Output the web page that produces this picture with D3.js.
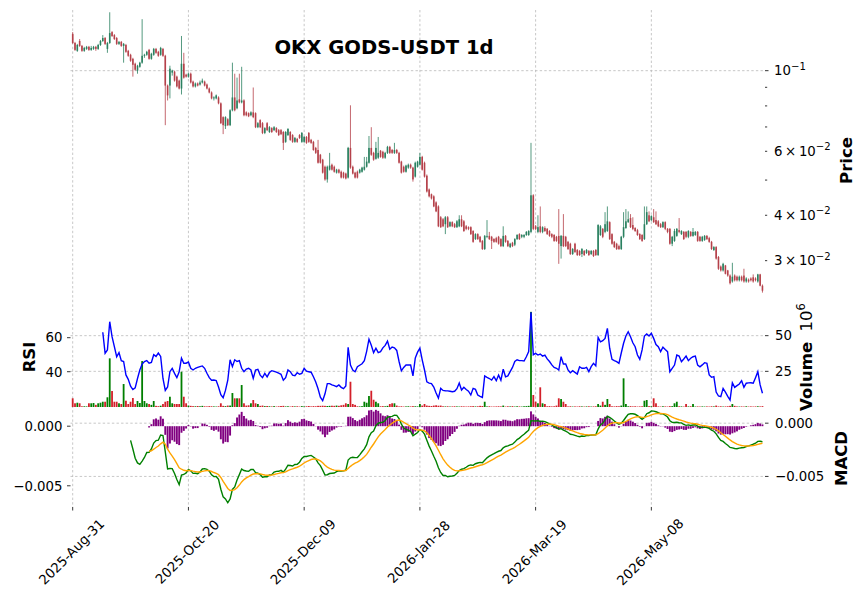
<!DOCTYPE html>
<html>
<head>
<meta charset="utf-8">
<script src="https://cdn.jsdelivr.net/npm/d3@7"></script>
<style>
  body { margin: 0; background: #fff; }
  text { font-family: "DejaVu Sans", sans-serif; fill: #000; }
</style>
</head>
<body>
<svg id="chart" width="865" height="600"></svg>
<script>
var title = "OKX GODS-USDT 1d";
var firstDate = "2025-08-31";
var dateTickIndex = [0, 50, 100, 150, 200, 250];

var opens = [
0.1261,0.1192,0.1134,0.1207,0.1170,0.1134,0.1148,0.1163,0.1141,0.1148,
0.1163,0.1148,0.1177,0.1207,0.1230,0.1148,0.1192,0.1277,0.1253,0.1230,
0.1185,0.1200,0.1170,0.1177,0.1134,0.1106,0.1078,0.1045,0.1000,0.1025,
0.1052,0.1099,0.1106,0.1141,0.1078,0.1106,0.1148,0.1127,0.1106,0.1148,
0.1099,0.0910,0.0910,0.0988,0.0994,0.0963,0.0939,0.0893,0.1045,0.0975,
0.0963,0.0981,0.0933,0.0905,0.0922,0.0916,0.0928,0.0933,0.0916,0.0893,
0.0871,0.0839,0.0839,0.0844,0.0813,0.0745,0.0704,0.0735,0.0708,0.0778,
0.0844,0.0788,0.0834,0.0818,0.0828,0.0768,0.0764,0.0754,0.0768,0.0764,
0.0699,0.0731,0.0717,0.0674,0.0717,0.0678,0.0695,0.0686,0.0695,0.0686,
0.0686,0.0678,0.0637,0.0665,0.0678,0.0665,0.0637,0.0649,0.0665,0.0637,
0.0637,0.0657,0.0674,0.0645,0.0637,0.0613,0.0605,0.0587,0.0569,0.0544,
0.0502,0.0534,0.0551,0.0544,0.0524,0.0534,0.0527,0.0524,0.0521,0.0508,
0.0613,0.0544,0.0524,0.0527,0.0524,0.0527,0.0534,0.0544,0.0558,0.0613,
0.0594,0.0572,0.0576,0.0602,0.0598,0.0576,0.0594,0.0617,0.0605,0.0594,
0.0605,0.0594,0.0562,0.0544,0.0527,0.0541,0.0551,0.0541,0.0511,0.0544,
0.0551,0.0579,0.0558,0.0514,0.0471,0.0457,0.0451,0.0434,0.0423,0.0395,
0.0390,0.0378,0.0395,0.0373,0.0383,0.0378,0.0371,0.0373,0.0390,0.0385,
0.0373,0.0371,0.0371,0.0362,0.0344,0.0355,0.0349,0.0340,0.0323,0.0349,
0.0351,0.0349,0.0344,0.0346,0.0349,0.0344,0.0329,0.0351,0.0340,0.0327,
0.0336,0.0332,0.0344,0.0355,0.0349,0.0349,0.0353,0.0353,0.0360,0.0454,
0.0373,0.0360,0.0373,0.0360,0.0369,0.0367,0.0362,0.0355,0.0353,0.0349,
0.0351,0.0329,0.0351,0.0349,0.0338,0.0334,0.0313,0.0334,0.0321,0.0319,
0.0313,0.0319,0.0315,0.0319,0.0313,0.0319,0.0321,0.0311,0.0353,0.0367,
0.0360,0.0362,0.0383,0.0355,0.0338,0.0334,0.0329,0.0323,0.0349,0.0369,
0.0383,0.0393,0.0376,0.0369,0.0364,0.0355,0.0353,0.0344,0.0378,0.0400,
0.0388,0.0395,0.0388,0.0385,0.0378,0.0371,0.0383,0.0367,0.0367,0.0334,
0.0340,0.0351,0.0364,0.0355,0.0360,0.0360,0.0349,0.0360,0.0351,0.0353,
0.0360,0.0349,0.0340,0.0342,0.0351,0.0346,0.0338,0.0321,0.0327,0.0307,
0.0289,0.0282,0.0291,0.0282,0.0273,0.0263,0.0273,0.0271,0.0265,0.0271,
0.0273,0.0263,0.0266,0.0268,0.0270,0.0268,0.0263,0.0275,0.0256];

var highs = [
0.1277,0.1200,0.1185,0.1222,0.1177,0.1163,0.1170,0.1170,0.1170,0.1170,
0.1170,0.1185,0.1215,0.1253,0.1238,0.1200,0.1448,0.1285,0.1261,0.1238,
0.1207,0.1207,0.1192,0.1185,0.1141,0.1113,0.1085,0.1052,0.1038,0.1058,
0.1386,0.1113,0.1134,0.1148,0.1120,0.1155,0.1155,0.1134,0.1163,0.1155,
0.1106,0.0916,0.1032,0.1006,0.1000,0.0969,0.0945,0.1246,0.1120,0.0981,
0.0988,0.0988,0.0939,0.0928,0.0928,0.0939,0.0951,0.0939,0.0922,0.0899,
0.0877,0.0850,0.0860,0.0850,0.0818,0.0749,0.0749,0.0740,0.0783,0.1052,
0.0981,0.0957,0.0981,0.1025,0.0834,0.0773,0.0768,0.0773,0.0899,0.0768,
0.0722,0.0735,0.0722,0.0699,0.0722,0.0704,0.0699,0.0704,0.0699,0.0691,
0.0691,0.0682,0.0682,0.0695,0.0682,0.0669,0.0657,0.0653,0.0669,0.0678,
0.0661,0.0661,0.0678,0.0649,0.0641,0.0617,0.0645,0.0590,0.0572,0.0548,
0.0548,0.0594,0.0555,0.0548,0.0537,0.0537,0.0531,0.0527,0.0524,0.0617,
0.0803,0.0548,0.0527,0.0531,0.0537,0.0544,0.0579,0.0579,0.0661,0.0699,
0.0598,0.0637,0.0657,0.0605,0.0602,0.0598,0.0621,0.0621,0.0609,0.0633,
0.0609,0.0598,0.0565,0.0548,0.0551,0.0555,0.0555,0.0544,0.0562,0.0565,
0.0594,0.0583,0.0562,0.0518,0.0474,0.0459,0.0454,0.0437,0.0426,0.0398,
0.0393,0.0398,0.0398,0.0385,0.0385,0.0381,0.0388,0.0400,0.0400,0.0388,
0.0376,0.0373,0.0373,0.0364,0.0357,0.0357,0.0351,0.0342,0.0353,0.0388,
0.0360,0.0351,0.0346,0.0349,0.0351,0.0346,0.0373,0.0353,0.0342,0.0336,
0.0338,0.0346,0.0355,0.0357,0.0355,0.0355,0.0362,0.0364,0.0633,0.0457,
0.0376,0.0400,0.0423,0.0373,0.0373,0.0369,0.0364,0.0357,0.0355,0.0351,
0.0416,0.0353,0.0403,0.0351,0.0340,0.0336,0.0325,0.0336,0.0323,0.0321,
0.0325,0.0321,0.0323,0.0321,0.0321,0.0321,0.0323,0.0378,0.0376,0.0369,
0.0408,0.0423,0.0385,0.0357,0.0340,0.0336,0.0332,0.0351,0.0408,0.0416,
0.0410,0.0403,0.0395,0.0371,0.0367,0.0357,0.0355,0.0423,0.0423,0.0410,
0.0400,0.0416,0.0410,0.0388,0.0381,0.0385,0.0385,0.0369,0.0369,0.0351,
0.0367,0.0369,0.0393,0.0364,0.0362,0.0362,0.0364,0.0362,0.0369,0.0362,
0.0362,0.0351,0.0351,0.0353,0.0353,0.0349,0.0340,0.0329,0.0329,0.0309,
0.0291,0.0296,0.0292,0.0283,0.0275,0.0296,0.0275,0.0273,0.0273,0.0273,
0.0285,0.0270,0.0268,0.0270,0.0275,0.0270,0.0276,0.0276,0.0258];

var lows = [
0.1185,0.1134,0.1127,0.1163,0.1127,0.1127,0.1141,0.1134,0.1134,0.1141,
0.1134,0.1141,0.1170,0.1200,0.1177,0.1120,0.1185,0.1238,0.1215,0.1177,
0.1177,0.1163,0.1052,0.1120,0.1092,0.1058,0.0963,0.1000,0.0981,0.1019,
0.1045,0.1085,0.1099,0.1072,0.1072,0.1099,0.1113,0.1092,0.1099,0.1092,
0.0708,0.0828,0.0839,0.0969,0.0933,0.0899,0.0888,0.0860,0.0951,0.0957,
0.0957,0.0922,0.0899,0.0899,0.0905,0.0910,0.0922,0.0905,0.0888,0.0866,
0.0834,0.0828,0.0834,0.0808,0.0713,0.0669,0.0691,0.0704,0.0704,0.0773,
0.0773,0.0783,0.0813,0.0813,0.0749,0.0749,0.0745,0.0749,0.0740,0.0695,
0.0695,0.0695,0.0669,0.0669,0.0682,0.0674,0.0674,0.0682,0.0674,0.0661,
0.0665,0.0605,0.0633,0.0661,0.0641,0.0633,0.0633,0.0633,0.0649,0.0633,
0.0633,0.0629,0.0633,0.0629,0.0602,0.0590,0.0555,0.0555,0.0521,0.0498,
0.0492,0.0531,0.0531,0.0524,0.0521,0.0521,0.0505,0.0505,0.0502,0.0505,
0.0537,0.0518,0.0505,0.0505,0.0521,0.0524,0.0531,0.0541,0.0555,0.0583,
0.0565,0.0569,0.0572,0.0576,0.0572,0.0572,0.0590,0.0590,0.0590,0.0590,
0.0590,0.0555,0.0521,0.0524,0.0524,0.0537,0.0537,0.0495,0.0508,0.0541,
0.0548,0.0531,0.0508,0.0462,0.0448,0.0442,0.0421,0.0408,0.0371,0.0369,
0.0371,0.0355,0.0369,0.0371,0.0371,0.0369,0.0369,0.0371,0.0371,0.0360,
0.0364,0.0364,0.0353,0.0336,0.0342,0.0342,0.0336,0.0321,0.0321,0.0346,
0.0342,0.0323,0.0336,0.0336,0.0332,0.0327,0.0327,0.0336,0.0327,0.0325,
0.0327,0.0329,0.0342,0.0342,0.0346,0.0346,0.0351,0.0351,0.0357,0.0364,
0.0364,0.0357,0.0357,0.0357,0.0360,0.0353,0.0349,0.0346,0.0338,0.0338,
0.0294,0.0304,0.0327,0.0327,0.0321,0.0311,0.0311,0.0315,0.0309,0.0309,
0.0307,0.0309,0.0313,0.0309,0.0311,0.0307,0.0309,0.0309,0.0351,0.0346,
0.0357,0.0360,0.0342,0.0332,0.0325,0.0321,0.0321,0.0321,0.0346,0.0367,
0.0381,0.0369,0.0364,0.0360,0.0351,0.0342,0.0338,0.0342,0.0376,0.0383,
0.0385,0.0381,0.0376,0.0371,0.0369,0.0369,0.0364,0.0357,0.0332,0.0329,
0.0338,0.0349,0.0357,0.0353,0.0342,0.0346,0.0346,0.0349,0.0349,0.0351,
0.0338,0.0338,0.0338,0.0340,0.0342,0.0336,0.0321,0.0319,0.0302,0.0283,
0.0280,0.0280,0.0275,0.0271,0.0258,0.0261,0.0263,0.0263,0.0263,0.0263,
0.0261,0.0261,0.0261,0.0263,0.0261,0.0263,0.0261,0.0255,0.0245];

var closes = [
0.1192,0.1141,0.1177,0.1170,0.1134,0.1155,0.1163,0.1141,0.1155,0.1163,
0.1148,0.1177,0.1207,0.1230,0.1185,0.1192,0.1269,0.1246,0.1222,0.1185,
0.1200,0.1170,0.1185,0.1127,0.1099,0.1065,0.1038,0.1006,0.1032,0.1052,
0.1099,0.1106,0.1127,0.1078,0.1113,0.1148,0.1120,0.1099,0.1155,0.1099,
0.0910,0.0855,0.1013,0.1000,0.0939,0.0905,0.0893,0.1045,0.0957,0.0963,
0.0981,0.0928,0.0905,0.0922,0.0910,0.0928,0.0939,0.0910,0.0893,0.0871,
0.0839,0.0844,0.0855,0.0813,0.0717,0.0708,0.0745,0.0708,0.0778,0.0844,
0.0778,0.0828,0.0818,0.0828,0.0754,0.0754,0.0749,0.0768,0.0745,0.0699,
0.0717,0.0699,0.0674,0.0695,0.0686,0.0699,0.0678,0.0699,0.0678,0.0665,
0.0669,0.0633,0.0678,0.0691,0.0645,0.0637,0.0653,0.0637,0.0653,0.0674,
0.0657,0.0633,0.0637,0.0633,0.0605,0.0594,0.0558,0.0558,0.0524,0.0502,
0.0544,0.0548,0.0534,0.0527,0.0534,0.0524,0.0508,0.0508,0.0505,0.0613,
0.0541,0.0521,0.0508,0.0508,0.0534,0.0541,0.0544,0.0562,0.0613,0.0587,
0.0569,0.0613,0.0594,0.0579,0.0576,0.0594,0.0617,0.0594,0.0594,0.0605,
0.0594,0.0558,0.0524,0.0527,0.0548,0.0551,0.0541,0.0502,0.0558,0.0562,
0.0579,0.0534,0.0511,0.0465,0.0451,0.0445,0.0423,0.0410,0.0373,0.0371,
0.0373,0.0395,0.0371,0.0383,0.0373,0.0371,0.0385,0.0390,0.0373,0.0362,
0.0367,0.0367,0.0355,0.0338,0.0355,0.0344,0.0338,0.0323,0.0351,0.0351,
0.0344,0.0340,0.0338,0.0338,0.0334,0.0329,0.0351,0.0338,0.0329,0.0334,
0.0329,0.0344,0.0353,0.0344,0.0353,0.0353,0.0360,0.0362,0.0454,0.0367,
0.0367,0.0371,0.0360,0.0371,0.0362,0.0355,0.0351,0.0349,0.0340,0.0340,
0.0334,0.0351,0.0329,0.0329,0.0323,0.0313,0.0323,0.0317,0.0311,0.0311,
0.0323,0.0311,0.0321,0.0311,0.0319,0.0309,0.0311,0.0376,0.0373,0.0349,
0.0378,0.0385,0.0344,0.0334,0.0327,0.0323,0.0323,0.0349,0.0371,0.0385,
0.0390,0.0371,0.0367,0.0362,0.0353,0.0344,0.0340,0.0378,0.0408,0.0385,
0.0398,0.0383,0.0378,0.0373,0.0371,0.0383,0.0367,0.0360,0.0334,0.0349,
0.0362,0.0367,0.0360,0.0362,0.0344,0.0349,0.0362,0.0351,0.0360,0.0360,
0.0340,0.0340,0.0349,0.0351,0.0344,0.0338,0.0323,0.0327,0.0304,0.0285,
0.0282,0.0294,0.0276,0.0273,0.0260,0.0271,0.0265,0.0265,0.0271,0.0265,
0.0263,0.0268,0.0263,0.0265,0.0263,0.0265,0.0275,0.0256,0.0248];

// volume in millions of GODS
var volumeMillions = [
6.1,2.6,3.0,2.6,0.5,0.5,0.4,2.6,2.6,2.8,
1.5,2.6,3.0,3.7,3.7,6.8,34.1,11.2,3.7,3.7,
2.6,2.1,16.1,4.4,2.1,3.7,6.3,2.1,4.2,2.8,
32.2,4.2,2.6,2.1,1.5,4.2,0.8,0.6,0.9,2.1,
3.7,4.2,7.2,2.6,2.1,2.1,2.1,24.7,7.2,2.6,
1.0,0.8,0.6,0.5,0.7,0.5,0.8,0.5,0.4,0.6,
0.5,0.4,0.3,0.5,2.6,0.8,0.6,1.0,1.0,9.8,
6.1,6.1,6.1,15.4,2.6,1.0,1.2,2.6,4.9,2.6,
2.1,0.8,1.0,0.6,0.7,0.5,0.4,0.6,0.3,0.5,
0.7,0.8,0.4,0.5,0.3,0.6,0.4,0.5,0.3,0.6,
0.4,0.5,0.7,0.4,0.6,0.5,0.8,0.8,0.9,0.8,
0.7,0.8,0.9,0.8,1.0,0.8,1.2,1.5,2.6,2.1,
17.7,2.1,1.5,0.5,0.4,0.6,3.7,3.0,7.7,11.4,
5.1,3.7,2.6,0.5,0.6,0.5,0.8,2.1,2.6,2.6,
1.0,0.4,0.5,0.3,0.4,0.5,0.4,0.6,0.5,0.4,
2.1,1.0,2.1,1.0,0.8,0.7,1.0,1.2,0.9,1.0,
0.5,0.4,0.5,0.3,0.4,0.5,0.4,0.3,0.5,0.4,
0.3,0.4,0.5,0.6,0.4,0.5,0.8,0.7,3.7,0.4,
0.5,0.3,0.3,0.4,0.5,0.4,1.0,0.3,0.5,0.4,
0.6,0.3,0.5,0.4,0.3,0.5,0.6,0.8,66.7,8.4,
3.7,2.6,13.8,2.6,2.1,0.5,0.6,0.4,0.5,1.0,
6.1,5.6,3.7,2.1,0.4,0.5,0.3,0.4,0.3,0.5,
0.4,0.3,0.4,0.5,0.3,0.4,0.5,2.1,1.0,3.7,
1.5,5.6,2.1,0.5,0.4,0.6,0.5,1.0,20.1,2.1,
0.5,0.6,0.4,0.5,0.3,0.4,0.5,4.4,4.9,0.6,
0.5,6.1,2.6,0.4,0.3,0.5,0.4,0.3,0.6,0.6,
2.6,3.7,0.5,0.4,0.3,2.1,0.4,0.5,2.1,0.3,
0.4,0.3,0.4,0.3,0.4,0.3,0.5,0.4,1.0,0.4,
0.5,0.3,0.4,0.5,0.8,2.1,0.8,0.4,0.3,0.4,
0.3,0.5,0.3,0.4,0.3,0.4,0.5,0.4,0.6];

// RSI(14) as plotted, first value belongs to candle 13
var rsiStart = 13;
var rsiValues = [
63.2,50.8,52.8,69.4,60.6,54.7,48.8,51.2,46.5,46,
38.1,35.5,31.5,29.5,30.5,36,41,44.5,46,46.5,
45,45.5,50,49,51,49,36,29,31,40,
42,39,36.5,40,48,45,45,45.7,42,41,
42,42.5,43,43.4,42,39.1,36.5,35,35.1,34.8,
31,26.5,24.7,29,35,47,43,47,46,46.5,
42,40,41.5,42,41,36.1,41,41.4,38,36.5,
39,37,39.5,40.6,40.2,39.8,39.1,38.5,35,36.5,
41,40,38,37.6,39.4,38.5,39,42,40.3,40,
39.7,37,34,30,25,23,27,33,33,32.2,
31.8,31.2,32.2,30.8,30,31.6,54.4,43.9,41,40,
42.9,43.8,44.7,46.5,52,59.1,55.5,51.2,53.8,51.2,
51.8,54,55.5,58,53.2,54.5,54,52.5,46,40.5,
42.5,43.9,43.9,43.9,37.5,48,51.5,53.8,47,41,
34,33.3,33,31,27.5,24.5,30.2,29,28.8,28.7,
28.5,28.2,28.5,30,33.3,29.2,30.8,29.5,28.5,26.3,
30.2,29.6,26.3,25.5,24.9,37.5,36.7,36,35.1,37.1,
34.7,38,35,41.5,37,37.5,40,42.5,46,47,
46.5,46.5,46.3,48.8,51.8,75,50,50.8,49.8,50.4,
49.2,49.8,47.5,46,44,42.5,42,41,48.8,44.5,
44.5,41,39.4,40.6,39.6,38.6,42.9,42,42,42.5,
40,43,44.9,43.4,60.2,57.6,58.2,59.6,65.5,53.8,
47.3,46.5,45.9,44.9,51,56.7,61,63.5,60.6,57,
54.7,49.8,47.3,52.8,61,62.2,61,62.6,59.6,56,
54.7,51.8,54.4,53,51.8,40,42,43.9,49.8,49.2,
45.9,47.5,49.2,46.5,47.9,48.8,49.2,43.9,42.9,44,
45.3,44.9,38.1,36.7,37.1,28,25.7,25.3,30.2,28,
25.5,23.4,33.5,30.8,31.8,32.8,34.7,30.8,33.2,33.4,
33.5,33.2,36.5,40,32.2,27.3];

var priceMinorTicks = [0.03, 0.04, 0.05, 0.06, 0.07, 0.08, 0.09];
var priceLabelTicks = [0.03, 0.04, 0.06, 0.1];
var volumeTicks = [25, 50];
var rsiTicks = [40, 60];
var macdTicks = [-0.005, 0];

// ---- layout ----
var svg = d3.select("#chart");
var left = 70.5, right = 765;
var priceTop = 10, priceBottom = 298;
var volTop = 298, volBottom = 407;
var macdTop = 407, macdBottom = 507;
var n = closes.length;

var upColor = "#2a8060", downColor = "#b5414a";
var gridColor = "#b9b9b9";

var x = d3.scaleLinear().domain([-0.95, n - 1 + 1.1]).range([left, right]);
var yPrice = d3.scaleLog().domain([0.02368, 0.1469]).range([priceBottom, priceTop]);
var yVol = d3.scaleLinear().domain([0, 76.4]).range([volBottom, volTop]);
var yRsi = d3.scaleLinear().domain([19.24, 83.35]).range([volBottom, volTop]);
var yMacd = d3.scaleLinear().domain([-0.00787, 0.00152]).range([macdBottom, macdTop]);
var yHist = d3.scaleLinear().domain([-0.00678, 0.00161]).range([macdBottom, macdTop]);

// ---- indicators from closes ----
function ema(vals, span) {
  var a = 2 / (span + 1), out = [];
  vals.forEach(function(v, i) { out.push(i === 0 ? v : a * v + (1 - a) * out[i - 1]); });
  return out;
}
var ema12 = ema(closes, 12), ema26 = ema(closes, 26);
var macd = ema12.map(function(v, i) { return v - ema26[i]; });
var signal = ema(macd, 9);
var hist = macd.map(function(v, i) { return v - signal[i]; });

// ---- grid ----
var grid = svg.append("g").attr("stroke", gridColor).attr("stroke-width", 0.8)
  .attr("stroke-dasharray", "2.4,2.2");
dateTickIndex.forEach(function(i) {
  grid.append("line").attr("x1", x(i)).attr("x2", x(i)).attr("y1", priceTop).attr("y2", macdBottom);
});
function hgrid(y) {
  grid.append("line").attr("x1", left).attr("x2", right).attr("y1", y).attr("y2", y);
}
hgrid(yPrice(0.1));
volumeTicks.forEach(function(v) { hgrid(yVol(v)); });
macdTicks.forEach(function(v) { hgrid(yMacd(v)); });

// ---- volume bars ----
var idx = d3.range(n);
svg.append("g").selectAll("rect").data(idx).enter().append("rect")
  .attr("x", function(i) { return x(i) - 0.9; })
  .attr("width", 1.8)
  .attr("y", function(i) { return yVol(volumeMillions[i]); })
  .attr("height", function(i) { return volBottom - yVol(volumeMillions[i]); })
  .attr("fill", function(i) { return closes[i] >= opens[i] ? "#007f00" : "#d3202a"; });

// ---- RSI ----
var rsiLine = d3.line()
  .x(function(d, k) { return x(rsiStart + k); })
  .y(function(d) { return yRsi(d); });
svg.append("path").datum(rsiValues).attr("d", rsiLine)
  .attr("fill", "none").attr("stroke", "#0000ff").attr("stroke-width", 1.4);

// ---- candles ----
var candles = svg.append("g");
candles.selectAll("line").data(idx).enter().append("line")
  .attr("x1", function(i) { return x(i); }).attr("x2", function(i) { return x(i); })
  .attr("y1", function(i) { return yPrice(highs[i]); })
  .attr("y2", function(i) { return yPrice(lows[i]); })
  .attr("stroke", function(i) { return closes[i] >= opens[i] ? upColor : downColor; })
  .attr("stroke-width", 0.8);
candles.selectAll("rect").data(idx).enter().append("rect")
  .attr("x", function(i) { return x(i) - 0.8; })
  .attr("width", 1.6)
  .attr("y", function(i) { return yPrice(Math.max(opens[i], closes[i])); })
  .attr("height", function(i) {
    return Math.max(0.8, yPrice(Math.min(opens[i], closes[i])) - yPrice(Math.max(opens[i], closes[i])));
  })
  .attr("fill", function(i) { return closes[i] >= opens[i] ? upColor : downColor; });

// ---- MACD ----
var histIdx = d3.range(33, n);
svg.append("g").selectAll("rect").data(histIdx).enter().append("rect")
  .attr("x", function(i) { return x(i) - 0.95; })
  .attr("width", 1.9)
  .attr("y", function(i) { return Math.min(yHist(hist[i]), yHist(0)); })
  .attr("height", function(i) { return Math.abs(yHist(hist[i]) - yHist(0)); })
  .attr("fill", "#800080");

var macdPath = d3.line().x(function(i) { return x(i); }).y(function(i) { return yMacd(macd[i]); });
var signalPath = d3.line().x(function(i) { return x(i); }).y(function(i) { return yMacd(signal[i]); });
svg.append("path").datum(d3.range(25, n)).attr("d", macdPath)
  .attr("fill", "none").attr("stroke", "#008000").attr("stroke-width", 1.4);
svg.append("path").datum(d3.range(33, n)).attr("d", signalPath)
  .attr("fill", "none").attr("stroke", "#ffa500").attr("stroke-width", 1.4);

// ---- axes ----
var fs = 13.3;
var axes = svg.append("g");
function tick(x1, x2, y) {
  axes.append("line").attr("x1", x1).attr("x2", x2).attr("y1", y).attr("y2", y)
    .attr("stroke", "#000").attr("stroke-width", 0.8);
}
function supLabel(g, base, exp) {
  g.append("tspan").text(base);
  g.append("tspan").attr("dy", -5.8).attr("font-size", fs * 0.76).text(exp);
}

// price (right, log)
priceMinorTicks.forEach(function(v) { tick(right, right + 2.2, yPrice(v)); });
tick(right, right + 3.5, yPrice(0.1));
priceLabelTicks.forEach(function(v) {
  var e = Math.floor(Math.log10(v) + 1e-9);
  var m = Math.round(v / Math.pow(10, e));
  var t = axes.append("text").attr("x", right + 9).attr("y", yPrice(v) + 4.8).attr("font-size", fs);
  supLabel(t, m === 1 ? "10" : m + "\u2009\u00d7\u200910", "\u2212" + Math.abs(e));
});

// volume (right)
volumeTicks.forEach(function(v) {
  tick(right, right + 3.5, yVol(v));
  axes.append("text").attr("x", right + 10).attr("y", yVol(v) + 4.8).attr("font-size", fs).text(v);
});
// rsi (left)
rsiTicks.forEach(function(v) {
  tick(left - 3.5, left, yRsi(v));
  axes.append("text").attr("x", left - 8).attr("y", yRsi(v) + 4.8).attr("text-anchor", "end")
    .attr("font-size", fs).text(v);
});
// macd (left = histogram, right = lines)
var fmt3 = d3.format(".3f");
macdTicks.forEach(function(v) {
  tick(left - 3.5, left, yHist(v));
  axes.append("text").attr("x", left - 8).attr("y", yHist(v) + 4.8).attr("text-anchor", "end")
    .attr("font-size", fs).text(fmt3(v));
  tick(right, right + 3.5, yMacd(v));
  axes.append("text").attr("x", right + 10).attr("y", yMacd(v) + 4.8)
    .attr("font-size", fs).text(fmt3(v));
});

// dates
var parse = d3.timeParse("%Y-%m-%d"), dfmt = d3.timeFormat("%Y-%b-%d");
var d0 = parse(firstDate);
dateTickIndex.forEach(function(i) {
  axes.append("line").attr("x1", x(i)).attr("x2", x(i)).attr("y1", macdBottom).attr("y2", macdBottom + 3.5)
    .attr("stroke", "#000").attr("stroke-width", 0.8);
  axes.append("text")
    .attr("transform", "translate(" + (x(i) - 1) + "," + 552 + ") rotate(-45)")
    .attr("text-anchor", "middle").attr("dominant-baseline", "central")
    .attr("font-size", fs).text(dfmt(d3.timeDay.offset(d0, i)));
});

// labels
function vlabel(xp, yp, txt) {
  return svg.append("text").attr("transform", "translate(" + xp + "," + yp + ") rotate(-90)")
    .attr("text-anchor", "middle").attr("font-size", 16.5).attr("font-weight", "bold").text(txt);
}
vlabel(852, 160.5, "Price");
vlabel(847, 458.5, "MACD");
vlabel(35, 357, "RSI");
var vl = svg.append("text").attr("transform", "translate(812,357) rotate(-90)")
  .attr("text-anchor", "middle").attr("font-size", 16.5);
vl.append("tspan").attr("font-weight", "bold").text("Volume");
vl.append("tspan").text("\u00a0\u00a010");
vl.append("tspan").attr("dy", -7).attr("font-size", 11.5).text("6");

svg.append("text").attr("x", 384).attr("y", 53.5).attr("text-anchor", "middle")
  .attr("font-size", 19.6).attr("font-weight", "bold").text(title);
</script>
</body>
</html>
